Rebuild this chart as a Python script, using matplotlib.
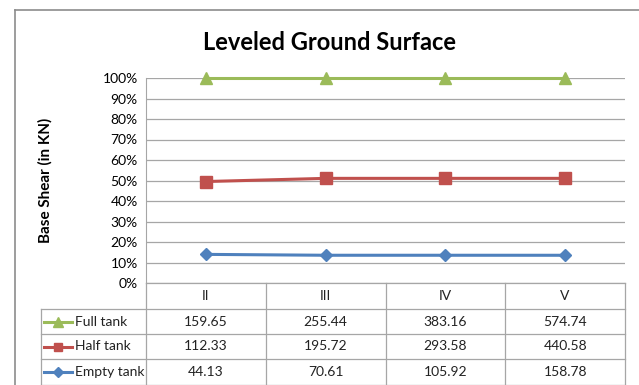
import numpy as np
import matplotlib.pyplot as plt
from matplotlib.transforms import blended_transform_factory
from matplotlib.lines import Line2D

plt.rcParams['font.family'] = ['Lato', 'DejaVu Sans']

# Base shear values (kN) per zone
zones = ['II', 'III', 'IV', 'V']
empty_tank = [44.13, 70.61, 105.92, 158.78]
half_tank = [112.33, 195.72, 293.58, 440.58]
full_tank = [159.65, 255.44, 383.16, 574.74]

series_names = ['Full tank', 'Half tank', 'Empty tank']
series_values = [full_tank, half_tank, empty_tank]
colors = ['#9BBB59', '#C0504D', '#4F81BD']
markers = ['^', 's', 'D']
msizes = [9, 8, 6]

# 100% stacked line: cumulative share of the total
stack = np.array([empty_tank, half_tank, full_tank])
cum = np.cumsum(stack, axis=0) / stack.sum(axis=0) * 100
stacked = {'Empty tank': cum[0], 'Half tank': cum[1], 'Full tank': cum[2]}

fig = plt.figure(figsize=(6.39, 3.85), dpi=100)
ax = fig.add_axes([146 / 639, 1 - 283 / 385, 479 / 639, 205 / 385])

x = np.arange(len(zones))
for name, c, m, ms in zip(series_names, colors, markers, msizes):
    ax.plot(x, stacked[name], color=c, lw=2.2, marker=m, ms=ms, zorder=3,
            clip_on=False)

ax.set_xlim(-0.5, len(zones) - 0.5)
ax.set_ylim(0, 100)
ax.set_yticks(np.arange(0, 101, 10))
ax.set_yticklabels([f'{v}%' for v in range(0, 101, 10)], fontsize=10)
ax.set_xticks([])
ax.yaxis.grid(True, color='#A6A6A6', lw=0.9)
ax.set_axisbelow(True)
for s in ['top', 'right', 'bottom']:
    ax.spines[s].set_visible(False)
ax.spines['left'].set_color('#A6A6A6')
ax.tick_params(axis='y', length=0, pad=6)

fig.text(45 / 639, 1 - 180 / 385, 'Base Shear (in KN)', fontsize=11,
         fontweight='bold', rotation=90, ha='center', va='center')
fig.text(0.515, 1 - 42 / 385, 'Leveled Ground Surface', fontsize=17,
         fontweight='bold', ha='center', va='center')

# data table below the plot, columns aligned with categories
tr = blended_transform_factory(ax.transData, ax.transAxes)
px = 205.0
row_edges = [0, -26 / px, -51 / px, -76 / px, -102 / px]
legend_left = -0.5 - 105 / 120
gc = '#A6A6A6'
lkw = dict(color=gc, lw=0.9, transform=tr, clip_on=False)

# vertical lines
for xe in np.arange(-0.5, len(zones), 1.0):
    ax.add_line(Line2D([xe, xe], [row_edges[0], row_edges[-1]], **lkw))
ax.add_line(Line2D([legend_left, legend_left], [row_edges[1], row_edges[-1]], **lkw))
# horizontal lines
ax.add_line(Line2D([-0.5, len(zones) - 0.5], [0, 0], **lkw))
for ye in row_edges[1:]:
    ax.add_line(Line2D([legend_left, len(zones) - 0.5], [ye, ye], **lkw))

# header row
for i, z in enumerate(zones):
    ax.text(i, (row_edges[0] + row_edges[1]) / 2, z, transform=tr, ha='center',
            va='center', fontsize=10, color='#222222')

# series rows
for r, (name, vals, c, m, ms) in enumerate(zip(series_names, series_values,
                                                colors, markers, msizes)):
    yc = (row_edges[r + 1] + row_edges[r + 2]) / 2
    for i, v in enumerate(vals):
        ax.text(i, yc, f'{v:.2f}', transform=tr, ha='center', va='center',
                fontsize=10, color='#222222')
    lx0 = legend_left + 3 / 120
    lx1 = legend_left + 31 / 120
    ax.add_line(Line2D([lx0, lx1], [yc, yc], color=c, lw=2.2, transform=tr,
                       clip_on=False))
    ax.add_line(Line2D([(lx0 + lx1) / 2], [yc], color=c, marker=m, ms=ms * 0.8,
                       transform=tr, clip_on=False))
    ax.text(legend_left + 34 / 120, yc, name, transform=tr, ha='left',
            va='center', fontsize=10, color='#222222')

# outer chart border
fig.add_artist(Line2D([15 / 639, 15 / 639], [0, 1 - 10 / 385],
                      transform=fig.transFigure, color='#8C8C8C', lw=1.2))
fig.add_artist(Line2D([15 / 639, 1], [1 - 10 / 385, 1 - 10 / 385],
                      transform=fig.transFigure, color='#8C8C8C', lw=1.2))

fig.savefig('out.png', dpi=100)
